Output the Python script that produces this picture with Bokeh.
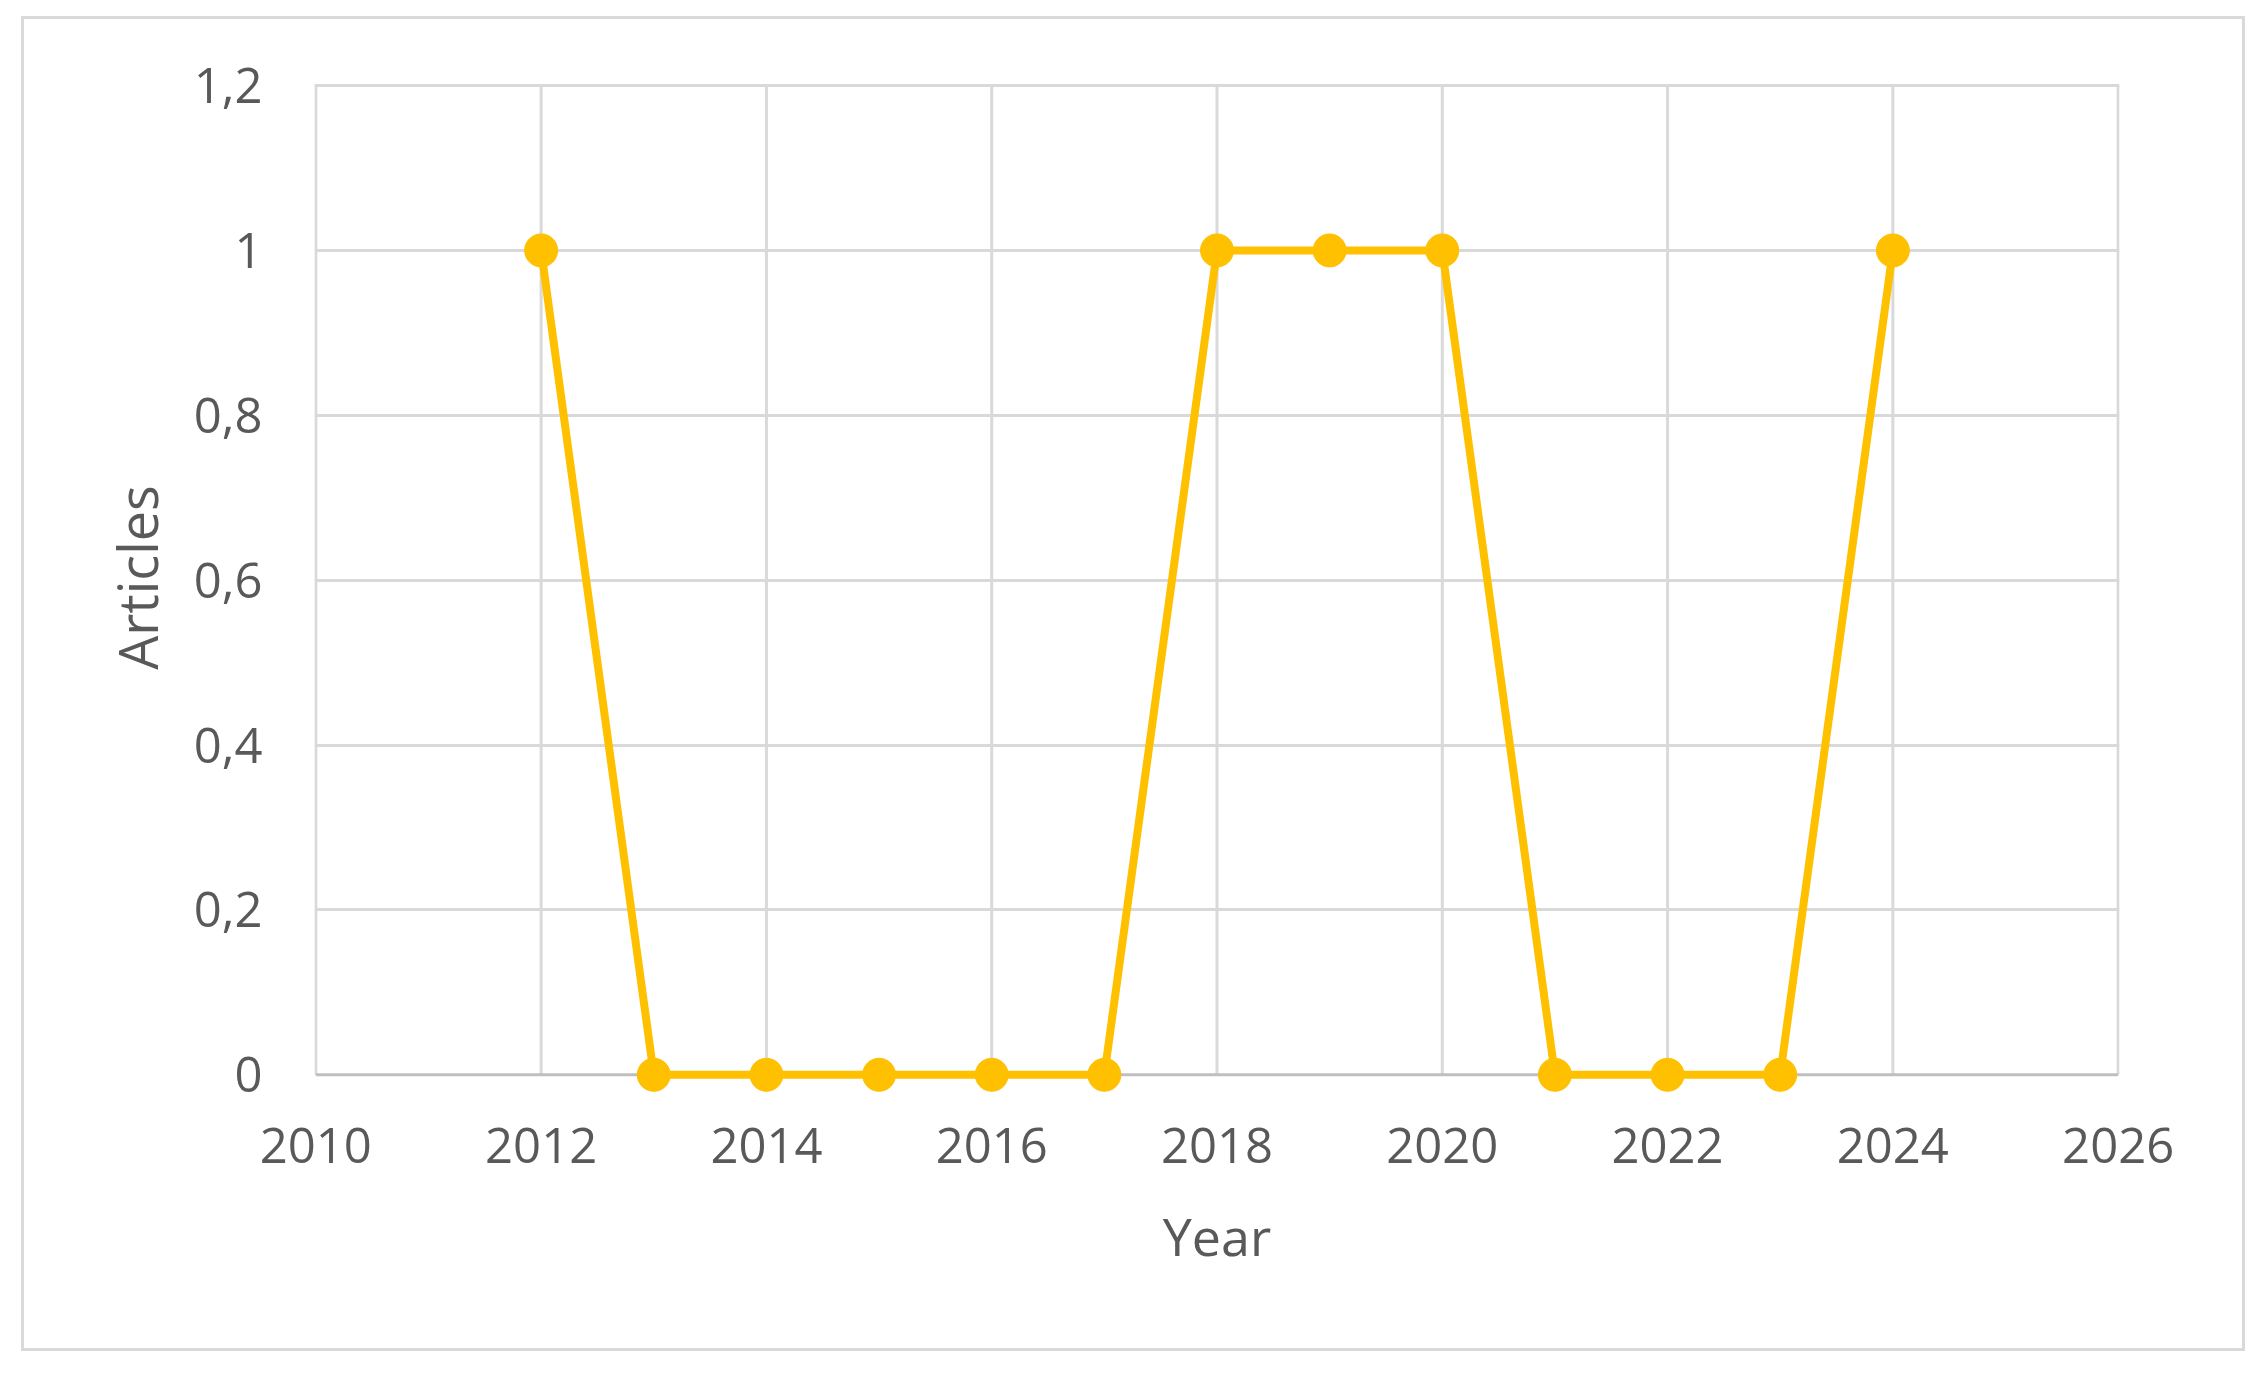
from bokeh.plotting import figure
from bokeh.models import FixedTicker, CustomJSTickFormatter, Range1d, Spacer
from bokeh.layouts import column, row
from bokeh.embed import file_html
from bokeh.resources import INLINE

years = [2012, 2013, 2014, 2015, 2016, 2017, 2018, 2019, 2020, 2021, 2022, 2023, 2024]
articles = [1, 0, 0, 0, 0, 0, 1, 1, 1, 0, 0, 0, 1]
x_ticks = [2010, 2012, 2014, 2016, 2018, 2020, 2022, 2024, 2026]
y_ticks = [0, 0.2, 0.4, 0.6, 0.8, 1.0, 1.2]

FONT = "Open Sans"
TXT = "#595959"
GRID = "#D9D9D9"
AXIS = "#BFBFBF"
GOLD = "#FFC000"

x0, x1 = x_ticks[0], x_ticks[-1]
y0, y1 = y_ticks[0], y_ticks[-1]

p = figure(width=2224, height=1335, output_backend="svg", toolbar_location=None,
           x_range=Range1d(x0 - 0.012, x1 + 0.012), y_range=Range1d(y0 - 0.03, y1 + 0.0025))
p.styles = {"border": "3px solid #D9D9D9"}
p.min_border = 0
p.min_border_left = 290
p.min_border_right = 129
p.min_border_top = 64
p.min_border_bottom = 255
p.background_fill_color = "white"
p.border_fill_color = "white"
p.outline_line_color = None

p.xaxis.ticker = FixedTicker(ticks=x_ticks)
p.yaxis.ticker = FixedTicker(ticks=y_ticks)
p.yaxis.formatter = CustomJSTickFormatter(code="return (Math.round(tick*10)/10).toString().replace('.', ',');")

for ax in (p.xaxis, p.yaxis):
    ax.axis_line_color = None
    ax.major_tick_line_color = None
    ax.minor_tick_line_color = None
    ax.major_label_text_font = FONT
    ax.major_label_text_font_size = "49px"
    ax.major_label_text_color = TXT
    ax.axis_label_text_font = FONT
    ax.axis_label_text_font_style = "normal"
    ax.axis_label_text_color = TXT

p.xaxis.axis_label = "Year"
p.yaxis.axis_label = "\u00a0\u00a0Articles"
p.xaxis.axis_label_text_font_size = "52px"
p.yaxis.axis_label_text_font_size = "54px"
p.xaxis.major_label_standoff = 22
p.yaxis.major_label_standoff = 46
p.xaxis.axis_label_standoff = 34
p.yaxis.axis_label_standoff = 17

p.xgrid.grid_line_color = None
p.ygrid.ticker = FixedTicker(ticks=y_ticks[1:])
p.ygrid.grid_line_color = GRID
p.ygrid.grid_line_width = 3

# vertical gridlines limited to the value span
p.segment(x0=x_ticks, y0=[y0] * len(x_ticks), x1=x_ticks, y1=[y1] * len(x_ticks),
          line_color=GRID, line_width=3, level="underlay")
# horizontal axis line at zero
p.segment(x0=[x0], y0=[y0], x1=[x1], y1=[y0], line_color=AXIS, line_width=3, level="underlay")

p.line(years, articles, line_color=GOLD, line_width=8)
p.scatter(years, articles, size=33, fill_color=GOLD, line_color=GOLD)

layout = column(Spacer(height=16), row(Spacer(width=21), p))
open("out.html", "w").write(file_html(layout, INLINE))
